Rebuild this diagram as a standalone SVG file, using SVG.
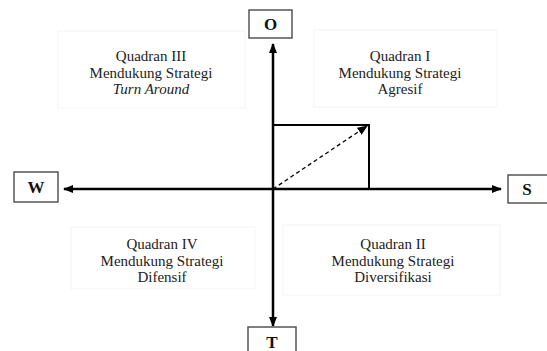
<svg xmlns="http://www.w3.org/2000/svg" width="547" height="351" viewBox="0 0 547 351">
<defs>
<style>
.lbl{fill:#fff;stroke:#555;stroke-width:1.5}
.lt{font-family:"Liberation Serif",serif;font-weight:bold;font-size:17px;fill:#111;text-anchor:middle}
.q{fill:#fff;stroke:#f4f4f4;stroke-width:1}
.qt{font-family:"Liberation Serif",serif;font-size:15px;fill:#222;text-anchor:middle}
.ax{stroke:#000;stroke-width:2.5;fill:none}
</style>
<marker id="ah" viewBox="0 0 10 10" refX="9" refY="5" markerWidth="4" markerHeight="4" orient="auto-start-reverse" markerUnits="strokeWidth"><path d="M0,1 L10,5 L0,9 z" fill="#000"/></marker>
<marker id="ah2" viewBox="0 0 10 10" refX="9" refY="5" markerWidth="8" markerHeight="8" orient="auto" markerUnits="strokeWidth"><path d="M0,1 L10,5 L0,9 z" fill="#000"/></marker>
</defs>
<rect width="547" height="351" fill="#fff"/>
<g id="q3"><rect class="q" x="58" y="31" width="187" height="77"/>
<text class="qt" x="151" y="61">Quadran III</text><text class="qt" x="151" y="77.5">Mendukung Strategi</text><text class="qt" x="151" y="94" font-style="italic">Turn Around</text></g>
<g id="q1"><rect class="q" x="314" y="30" width="183" height="77"/>
<text class="qt" x="400" y="61">Quadran I</text><text class="qt" x="400" y="77.5">Mendukung Strategi</text><text class="qt" x="400" y="94">Agresif</text></g>
<g id="q4"><rect class="q" x="71" y="227" width="184" height="62"/>
<text class="qt" x="162" y="249">Quadran IV</text><text class="qt" x="162" y="265.5">Mendukung Strategi</text><text class="qt" x="162" y="282">Difensif</text></g>
<g id="q2"><rect class="q" x="283" y="225" width="217" height="70"/>
<text class="qt" x="393" y="249">Quadran II</text><text class="qt" x="393" y="265.5">Mendukung Strategi</text><text class="qt" x="393" y="282">Diversifikasi</text></g>
<g id="connectors">
<line class="ax" x1="273" y1="326" x2="273" y2="44" marker-end="url(#ah)" marker-start="url(#ah)"/>
<line class="ax" x1="64" y1="189" x2="501" y2="189" marker-end="url(#ah)" marker-start="url(#ah)"/>
<polyline points="273,125 369,125 369,189" fill="none" stroke="#000" stroke-width="2"/>
<line x1="273" y1="189" x2="367" y2="126" stroke="#000" stroke-width="1.3" stroke-dasharray="4,3" marker-end="url(#ah2)"/>
</g>
<g id="O"><rect class="lbl" x="249" y="10" width="43" height="28"/><text class="lt" x="270.5" y="30">O</text></g>
<g id="T"><rect class="lbl" x="248" y="327" width="48" height="30"/><text class="lt" x="272" y="348">T</text></g>
<g id="W"><rect class="lbl" x="14" y="172" width="44" height="30"/><text class="lt" x="36" y="193">W</text></g>
<g id="S"><rect class="lbl" x="508" y="175" width="45" height="28"/><text class="lt" x="527" y="195">S</text></g>
</svg>
